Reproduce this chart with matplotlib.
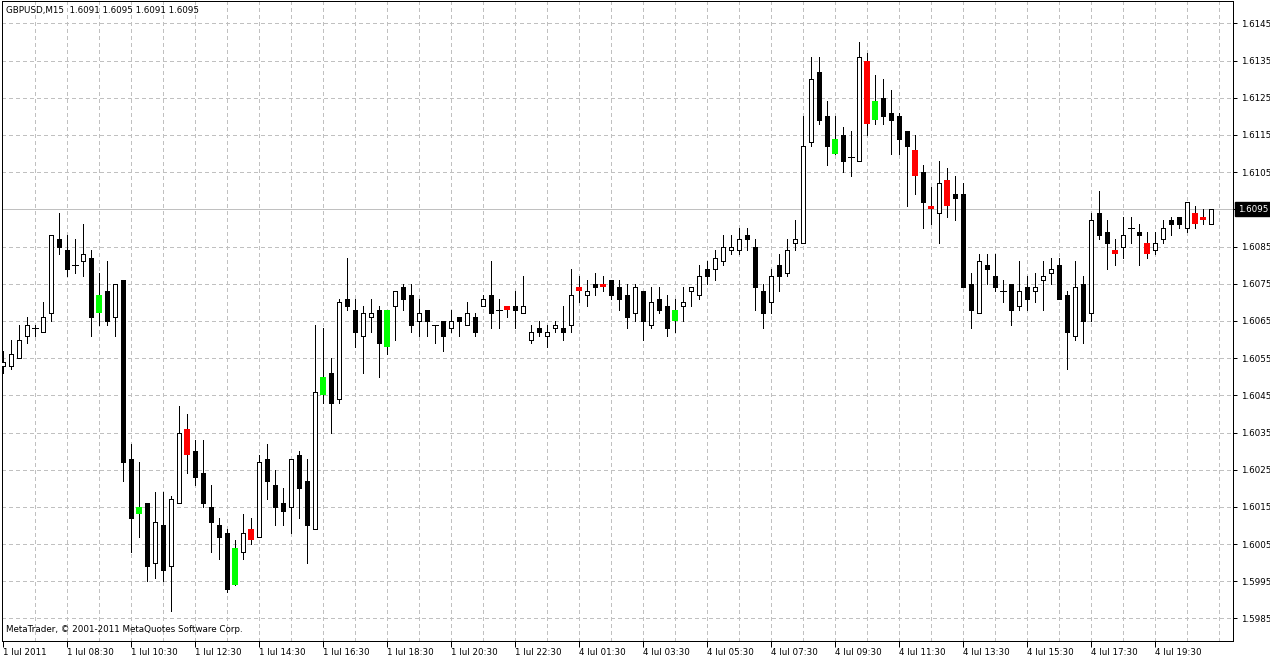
import matplotlib
matplotlib.use("Agg")
import matplotlib.pyplot as plt
import numpy as np

# ---------------- data (GBPUSD M15) ----------------
symbol = "GBPUSD,M15"
opens = [1.6053, 1.6053, 1.6055, 1.6061, 1.6063, 1.6062, 1.6067, 1.6087, 1.6084, 1.6080,
         1.6081, 1.6082, 1.6067, 1.6073, 1.6066, 1.6076, 1.6028, 1.6013, 1.6016, 1.6000,
         1.6010, 1.5999, 1.6016, 1.6036, 1.6030, 1.6024, 1.6015, 1.6010, 1.6008, 1.5994,
         1.6003, 1.6009, 1.6007, 1.6028, 1.6021, 1.6016, 1.6015, 1.6029, 1.6022, 1.6009,
         1.6045, 1.6051, 1.6044, 1.6071, 1.6068, 1.6061, 1.6066, 1.6068, 1.6058, 1.6069,
         1.6074, 1.6072, 1.6065, 1.6068, 1.6064, 1.6065, 1.6063, 1.6066, 1.6064, 1.6066,
         1.6069, 1.6072, 1.6068, 1.6069, 1.6069, 1.6067, 1.6060, 1.6063, 1.6061, 1.6063,
         1.6063, 1.6064, 1.6074, 1.6072, 1.6075, 1.6075, 1.6076, 1.6074, 1.6072, 1.6067,
         1.6073, 1.6064, 1.6071, 1.6069, 1.6065, 1.6069, 1.6073, 1.6072, 1.6079, 1.6079,
         1.6081, 1.6084, 1.6084, 1.6088, 1.6085, 1.6073, 1.6070, 1.6080, 1.6078, 1.6086,
         1.6086, 1.6113, 1.6132, 1.6120, 1.6110, 1.6115, 1.6109, 1.6108, 1.6135, 1.6119,
         1.6125, 1.6121, 1.6120, 1.6116, 1.6111, 1.6105, 1.6096, 1.6094, 1.6103, 1.6099,
         1.6099, 1.6075, 1.6067, 1.6080, 1.6077, 1.6073, 1.6075, 1.6069, 1.6074, 1.6073,
         1.6076, 1.6078, 1.6080, 1.6072, 1.6061, 1.6075, 1.6067, 1.6094, 1.6089, 1.6084,
         1.6085, 1.6090, 1.6089, 1.6086, 1.6084, 1.6087, 1.6092, 1.6093, 1.6090, 1.6094,
         1.6093, 1.6091]
highs = [1.6057, 1.6060, 1.6064, 1.6066, 1.6064, 1.6070, 1.6088, 1.6094, 1.6088, 1.6087,
         1.6091, 1.6084, 1.6078, 1.6081, 1.6075, 1.6076, 1.6032, 1.6027, 1.6016, 1.6019,
         1.6019, 1.6018, 1.6042, 1.6040, 1.6033, 1.6033, 1.6021, 1.6012, 1.6009, 1.6006,
         1.6013, 1.6012, 1.6029, 1.6032, 1.6025, 1.6020, 1.6028, 1.6030, 1.6028, 1.6064,
         1.6063, 1.6055, 1.6071, 1.6082, 1.6071, 1.6069, 1.6071, 1.6069, 1.6068, 1.6073,
         1.6075, 1.6075, 1.6071, 1.6068, 1.6064, 1.6065, 1.6068, 1.6066, 1.6070, 1.6067,
         1.6072, 1.6081, 1.6071, 1.6069, 1.6073, 1.6077, 1.6064, 1.6065, 1.6064, 1.6065,
         1.6069, 1.6079, 1.6077, 1.6076, 1.6078, 1.6077, 1.6076, 1.6076, 1.6075, 1.6075,
         1.6073, 1.6074, 1.6074, 1.6072, 1.6071, 1.6074, 1.6074, 1.6080, 1.6081, 1.6084,
         1.6088, 1.6088, 1.6090, 1.6090, 1.6087, 1.6075, 1.6079, 1.6083, 1.6087, 1.6092,
         1.6120, 1.6136, 1.6136, 1.6124, 1.6120, 1.6117, 1.6116, 1.6140, 1.6137, 1.6131,
         1.6130, 1.6127, 1.6121, 1.6116, 1.6115, 1.6107, 1.6101, 1.6108, 1.6106, 1.6104,
         1.6102, 1.6078, 1.6083, 1.6083, 1.6083, 1.6076, 1.6075, 1.6081, 1.6077, 1.6078,
         1.6081, 1.6082, 1.6082, 1.6073, 1.6081, 1.6077, 1.6094, 1.6100, 1.6092, 1.6087,
         1.6093, 1.6093, 1.6091, 1.6089, 1.6089, 1.6092, 1.6093, 1.6093, 1.6097, 1.6096,
         1.6095, 1.6095]
lows = [1.6051, 1.6052, 1.6055, 1.6059, 1.6061, 1.6062, 1.6065, 1.6083, 1.6077, 1.6078,
        1.6077, 1.6061, 1.6064, 1.6064, 1.6061, 1.6022, 1.6003, 1.6007, 1.5995, 1.5996,
        1.5995, 1.5987, 1.6016, 1.6024, 1.6021, 1.6015, 1.6003, 1.6001, 1.5992, 1.5994,
        1.6001, 1.6005, 1.6007, 1.6017, 1.6010, 1.6010, 1.6008, 1.6012, 1.6000, 1.6009,
        1.6043, 1.6035, 1.6043, 1.6068, 1.6058, 1.6051, 1.6062, 1.6050, 1.6056, 1.6060,
        1.6068, 1.6062, 1.6061, 1.6061, 1.6059, 1.6057, 1.6062, 1.6061, 1.6064, 1.6061,
        1.6069, 1.6063, 1.6063, 1.6066, 1.6063, 1.6067, 1.6059, 1.6061, 1.6058, 1.6062,
        1.6060, 1.6062, 1.6070, 1.6069, 1.6072, 1.6073, 1.6071, 1.6068, 1.6063, 1.6065,
        1.6060, 1.6063, 1.6067, 1.6061, 1.6062, 1.6065, 1.6069, 1.6071, 1.6075, 1.6076,
        1.6080, 1.6083, 1.6083, 1.6084, 1.6068, 1.6063, 1.6067, 1.6073, 1.6077, 1.6084,
        1.6086, 1.6112, 1.6118, 1.6107, 1.6110, 1.6105, 1.6104, 1.6108, 1.6115, 1.6118,
        1.6118, 1.6110, 1.6110, 1.6096, 1.6099, 1.6090, 1.6091, 1.6086, 1.6093, 1.6092,
        1.6074, 1.6063, 1.6067, 1.6075, 1.6073, 1.6070, 1.6064, 1.6068, 1.6068, 1.6070,
        1.6068, 1.6075, 1.6071, 1.6052, 1.6060, 1.6059, 1.6065, 1.6087, 1.6079, 1.6080,
        1.6082, 1.6086, 1.6080, 1.6082, 1.6083, 1.6086, 1.6088, 1.6090, 1.6089, 1.6090,
        1.6091, 1.6091]
closes = [1.6054, 1.6056, 1.6060, 1.6064, 1.6063, 1.6066, 1.6088, 1.6085, 1.6079, 1.6080,
          1.6083, 1.6066, 1.6072, 1.6065, 1.6075, 1.6027, 1.6012, 1.6015, 1.5999, 1.6011,
          1.5998, 1.6017, 1.6035, 1.6029, 1.6023, 1.6016, 1.6011, 1.6007, 1.5993, 1.6004,
          1.6008, 1.6006, 1.6027, 1.6022, 1.6015, 1.6014, 1.6028, 1.6020, 1.6010, 1.6046,
          1.6050, 1.6043, 1.6070, 1.6069, 1.6062, 1.6067, 1.6067, 1.6059, 1.6068, 1.6073,
          1.6071, 1.6064, 1.6067, 1.6065, 1.6064, 1.6061, 1.6065, 1.6065, 1.6067, 1.6062,
          1.6071, 1.6067, 1.6068, 1.6068, 1.6068, 1.6069, 1.6062, 1.6062, 1.6062, 1.6064,
          1.6062, 1.6072, 1.6073, 1.6073, 1.6074, 1.6074, 1.6072, 1.6071, 1.6066, 1.6074,
          1.6065, 1.6070, 1.6068, 1.6063, 1.6068, 1.6070, 1.6074, 1.6077, 1.6077, 1.6082,
          1.6085, 1.6085, 1.6087, 1.6087, 1.6074, 1.6067, 1.6077, 1.6077, 1.6084, 1.6087,
          1.6112, 1.6130, 1.6119, 1.6112, 1.6114, 1.6108, 1.6109, 1.6136, 1.6118, 1.6124,
          1.6120, 1.6119, 1.6114, 1.6112, 1.6104, 1.6097, 1.6095, 1.6102, 1.6096, 1.6098,
          1.6074, 1.6068, 1.6081, 1.6079, 1.6074, 1.6073, 1.6068, 1.6073, 1.6071, 1.6074,
          1.6077, 1.6079, 1.6071, 1.6062, 1.6074, 1.6065, 1.6092, 1.6088, 1.6086, 1.6083,
          1.6088, 1.6090, 1.6088, 1.6083, 1.6086, 1.6090, 1.6091, 1.6091, 1.6097, 1.6091,
          1.6092, 1.6095]
# bars highlighted by the chart's indicator (green = up signal, red = down signal)
up_signal = [12, 17, 29, 40, 48, 84, 104, 109]
down_signal = [23, 31, 63, 72, 75, 108, 114, 116, 118, 139, 143, 149, 150]

x_tick_bars = list(range(0, 152, 8))
x_tick_labels = ["1 Jul 2011", "1 Jul 08:30", "1 Jul 10:30", "1 Jul 12:30", "1 Jul 14:30",
                 "1 Jul 16:30", "1 Jul 18:30", "1 Jul 20:30", "1 Jul 22:30", "4 Jul 01:30",
                 "4 Jul 03:30", "4 Jul 05:30", "4 Jul 07:30", "4 Jul 09:30", "4 Jul 11:30",
                 "4 Jul 13:30", "4 Jul 15:30", "4 Jul 17:30", "4 Jul 19:30"]
y_ticks = [1.5985, 1.5995, 1.6005, 1.6015, 1.6025, 1.6035, 1.6045, 1.6055, 1.6065,
           1.6075, 1.6085, 1.6095, 1.6105, 1.6115, 1.6125, 1.6135, 1.6145]
last_price = 1.6095
copyright_text = "MetaTrader, \u00a9 2001-2011 MetaQuotes Software Corp."

# ---------------- figure ----------------
W, H = 1270, 655
fig = plt.figure(figsize=(W / 100, H / 100), dpi=100)
fig.patch.set_facecolor("white")
left_px, right_px, top_px, bottom_px = 2, 1233, 1, 641
ax = fig.add_axes([left_px / W, 1 - bottom_px / H, (right_px - left_px) / W, (bottom_px - top_px) / H])
ax.set_facecolor("white")

FONT = "DejaVu Sans"
FS = 6.3
LW = 0.72  # one pixel

n = len(opens)
x = np.arange(n)
o = np.array(opens); h = np.array(highs); l = np.array(lows); c = np.array(closes)

# grid
grid_col = "#c0c0c0"
for yt in y_ticks:
    if abs(yt - last_price) > 1e-9:
        ax.axhline(yt, color=grid_col, lw=LW, ls=(0, (3, 3)), zorder=0, antialiased=False)
for xb in range(4, 156, 4):
    ax.axvline(xb, color=grid_col, lw=LW, ls=(0, (3, 3)), zorder=0, antialiased=False)
ax.axhline(last_price, color=grid_col, lw=LW, zorder=0.5, antialiased=False)

# wicks
ax.vlines(x, l, h, color="black", lw=LW, zorder=2, antialiased=False)

up_set = set(up_signal); dn_set = set(down_signal)
bw = 0.56
for i in range(n):
    lo_b = min(o[i], c[i]); hi_b = max(o[i], c[i])
    if hi_b - lo_b < 1e-9:
        ax.hlines(o[i], i - 0.32, i + 0.32, color="black", lw=LW, zorder=3, antialiased=False)
        continue
    if i in up_set:
        ax.bar(i, hi_b - lo_b, bottom=lo_b, width=0.66, color="#00ff00", edgecolor="none",
               zorder=3, antialiased=False)
    elif i in dn_set:
        ax.bar(i, hi_b - lo_b, bottom=lo_b, width=0.66, color="#ff0000", edgecolor="none",
               zorder=3, antialiased=False)
    elif c[i] > o[i]:
        ax.bar(i, hi_b - lo_b, bottom=lo_b, width=bw, color="white", edgecolor="black",
               lw=LW, zorder=3, antialiased=False)
    else:
        ax.bar(i, hi_b - lo_b, bottom=lo_b, width=bw, color="black", edgecolor="black",
               lw=LW, zorder=3, antialiased=False)

# limits: bar i centered at pixel 3 + 8 i ; 1 pip = 3.72 px
ax.set_xlim(-0.125, 153.75)
ax.set_ylim(1.597895, 1.615100)

# axes frame
for s in ax.spines.values():
    s.set_color("black"); s.set_linewidth(LW); s.set_antialiased(False)

# y ticks on the right
ax.yaxis.tick_right()
ax.set_yticks(y_ticks)
ax.set_yticklabels(["" if abs(v - last_price) < 1e-9 else f"{v:.4f}" for v in y_ticks],
                   fontsize=FS, family=FONT)
ax.tick_params(axis="y", direction="out", length=3, width=LW, pad=3, colors="black")

# x ticks
ax.set_xticks(x_tick_bars)
ax.set_xticklabels(x_tick_labels, fontsize=FS, family=FONT)
for lbl in ax.get_xticklabels():
    lbl.set_horizontalalignment("left")
ax.tick_params(axis="x", direction="out", length=4, width=LW, pad=1, colors="black")

# current price label
ax.annotate(f"{last_price:.4f}", xy=(1.0, last_price), xycoords=("axes fraction", "data"),
            xytext=(3.5, 0), textcoords="offset points", va="center", ha="left",
            fontsize=FS, family=FONT, color="white",
            bbox=dict(boxstyle="square,pad=0.3", fc="black", ec="black"))

# header & copyright
fig.text(6 / W, 1 - 10 / H, f"{symbol}  {opens[-1]:.4f} {highs[-1]:.4f} {lows[-1]:.4f} {closes[-1]:.4f}",
         fontsize=FS, family=FONT, va="center", ha="left", color="black")
fig.text(6 / W, 1 - 630 / H, copyright_text, fontsize=FS, family=FONT, va="center", ha="left",
         color="black")

fig.savefig("out.png", dpi=100, facecolor="white")
